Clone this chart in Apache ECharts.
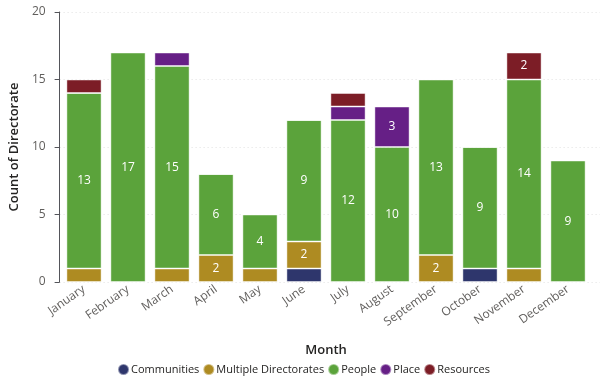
<!DOCTYPE html>
<html><head><meta charset="utf-8">
<script src="https://cdn.jsdelivr.net/npm/echarts@6/dist/echarts.min.js"></script>
<style>html,body{margin:0;padding:0;background:#fff}#c{width:607px;height:390px}</style>
</head><body><div id="c"></div>
<script>
const months = ['January','February','March','April','May','June','July','August','September','October','November','December'];
const communities = [0,0,0,0,0,1,0,0,0,1,0,0];
const multiple    = [1,0,1,2,1,2,0,0,2,0,1,0];
const people      = [13,17,15,6,4,9,12,10,13,9,14,9];
const place       = [0,0,1,0,0,0,1,3,0,0,0,0];
const resources   = [1,0,0,0,0,0,1,0,0,0,2,0];
const yTicks = [0,5,10,15,20];

const FONT = "'Segoe UI','Open Sans',sans-serif";
const colors = {Communities:'#2E366C', 'Multiple Directorates':'#AE8B22', People:'#5BA33B', Place:'#661F86', Resources:'#7C1D26'};
const seriesData = [['Communities',communities],['Multiple Directorates',multiple],['People',people],['Place',place],['Resources',resources]];

const chart = echarts.init(document.getElementById('c'));
chart.setOption({
  animation:false,
  legend:{bottom:9, left:'center', icon:'circle', itemWidth:11, itemHeight:11, itemGap:3,
    textStyle:{color:'#252423', fontSize:11, fontFamily:FONT, padding:[0,0,0,-3]}},
  grid:[{left:48, right:7, top:12, bottom:108}, {left:62, right:17, top:12, bottom:108}],
  xAxis:[
    {gridIndex:0, type:'value', min:0, max:1, show:false},
    {gridIndex:1, type:'category', data:months, axisLine:{show:false}, axisTick:{show:false},
     axisLabel:{rotate:35, color:'#605E5C', fontSize:12, fontFamily:FONT, margin:6, interval:0},
     name:'Month', nameLocation:'middle', nameGap:62,
     nameTextStyle:{color:'#252423', fontSize:13, fontWeight:600, fontFamily:FONT}}
  ],
  yAxis:[
    {gridIndex:0, type:'value', min:0, max:20, interval:5,
     axisLabel:{color:'#605E5C', fontSize:12, fontFamily:FONT, margin:14},
     splitLine:{lineStyle:{color:'#E1E1E1', type:[1,3]}},
     name:'Count of Directorate', nameLocation:'middle', nameGap:31,
     nameTextStyle:{color:'#252423', fontSize:13, fontWeight:600, fontFamily:FONT}},
    {gridIndex:1, type:'value', min:0, max:20, interval:5, show:false, splitLine:{show:false}}
  ],
  series: seriesData.map(([name,vals])=>({
    name, type:'bar', stack:'total', xAxisIndex:1, yAxisIndex:1,
    data: vals, barCategoryGap:'20%',
    itemStyle:{color:colors[name], borderColor:'rgba(255,255,255,0.45)', borderWidth:1},
    label:{show:true, position:'inside', color:'#fff', fontSize:12, fontFamily:FONT,
      formatter:p=> p.value>=2 ? String(p.value) : ''}
  }))
});
</script></body></html>
